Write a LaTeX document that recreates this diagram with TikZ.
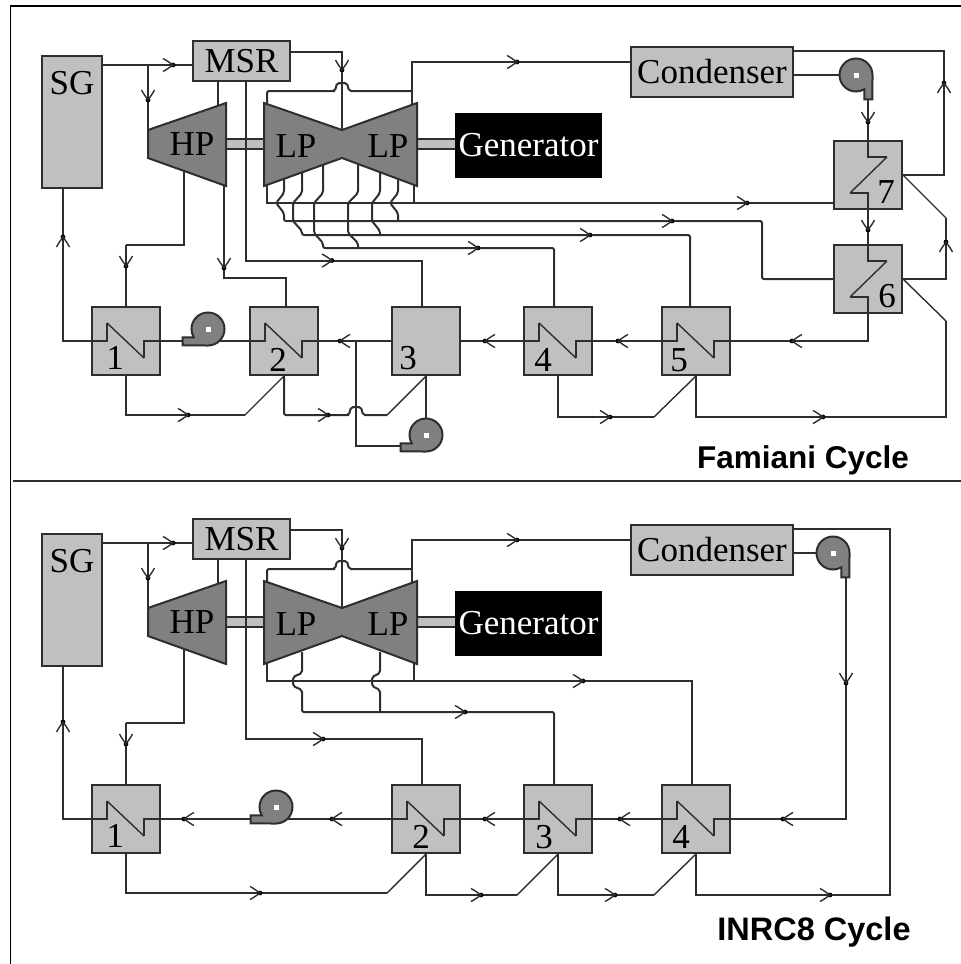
\documentclass[tikz,border=0pt]{standalone}
\usepackage{fontspec}
\setmainfont{Liberation Serif}
\newfontfamily\capfont{Liberation Sans}
\usetikzlibrary{backgrounds,calc}
\definecolor{linegray}{HTML}{2E2E2E}
\definecolor{boxgray}{HTML}{C0C0C0}
\definecolor{darkgray}{HTML}{808080}
\tikzset{
  pipe/.style={draw=linegray,line width=2pt,line join=miter},
  thinpipe/.style={draw=linegray,line width=1.4pt},
  hopline/.style={pipe,rounded corners=2pt},
  boxstyle/.style={draw=linegray,line width=2pt,fill=boxgray,inner sep=0pt,text=black,font=\fontsize{35}{35}\selectfont},
  digitstyle/.style={inner sep=0pt,text=black,font=\fontsize{35}{35}\selectfont},
  turbtext/.style={inner sep=0pt,text=black,font=\fontsize{35}{35}\selectfont},
  turbstyle/.style={draw=linegray,line width=2pt,fill=darkgray,line join=miter},
  shaftstyle/.style={fill=boxgray,draw=linegray,line width=2pt},
  holestyle/.style={draw=none,fill=white,minimum size=5pt,inner sep=0pt},
  capstyle/.style={inner sep=0pt,text=black,font=\capfont\bfseries\fontsize{31.5}{32}\selectfont},
  capstylewide/.style={inner sep=0pt,text=black,font=\capfont\bfseries\fontsize{32.5}{33}\selectfont},
  tipdot/.style={fill=black,draw=none},
  pics/flowtip/.style={code={
    \fill[tipdot] (0,0) circle[radius=2.4pt];
    \draw[draw=linegray,line width=1.4pt] (-10,-6.5) .. controls (-6,-4.5) and (-3,-2) .. (0,0) .. controls (-3,2) and (-6,4.5) .. (-10,6.5);
  }}
}
% \heatbox{name}{cx}{cy}{label}{lx}{ly}: horizontal coil
\newcommand{\heatbox}[6]{%
  \node[boxstyle,minimum width=68pt,minimum height=68pt] (#1) at (#2,#3) {};
  \node[digitstyle] (#1lab) at (#5,#6) {#4};
  \draw[pipe] (#1.east) -- ($(#1.center)+(18,0)$) -- ($(#1.center)+(18,17)$);
  \draw[thinpipe] ($(#1.center)+(18,17)$) -- ($(#1.center)+(-19,-18)$);
  \draw[pipe] ($(#1.center)+(-19,-18)$) -- ($(#1.center)+(-19,0)$) -- (#1.west);
}
% vertical coil
\newcommand{\heatboxv}[6]{%
  \node[boxstyle,minimum width=68pt,minimum height=68pt] (#1) at (#2,#3) {};
  \node[digitstyle] (#1lab) at (#5,#6) {#4};
  \draw[pipe] (#1.north) -- ($(#1.center)+(0,-18)$) -- ($(#1.center)+(19,-18)$);
  \draw[thinpipe] ($(#1.center)+(19,-18)$) -- ($(#1.center)+(-18,18)$);
  \draw[pipe] ($(#1.center)+(-18,18)$) -- ($(#1.center)+(0,18)$) -- (#1.south);
}
% pump with outlet to the left
\newcommand{\pumpleft}[3]{%
  \draw[turbstyle] ($(#2,#3)+(0,16.5)$) arc[start angle=270,end angle=570,radius=16.5pt] -- ++(-11,0) -- ++(0,8.2) -- cycle;
  \node[holestyle] (#1) at (#2,#3) {};
}
% pump with outlet downwards
\newcommand{\pumpdown}[3]{%
  \draw[turbstyle] ($(#2,#3)+(16.5,0)$) arc[start angle=0,end angle=300,radius=16.5pt] -- ++(0,10) -- ++(8.2,0) -- cycle;
  \node[holestyle] (#1) at (#2,#3) {};
}
% parts common to both cycles
\newcommand{\commonparts}[1]{%
  \node[boxstyle,minimum width=60pt,minimum height=132pt] (SG#1) at (72,122) {};
  \node[digitstyle] (SGlab#1) at (72,83) {SG};
  \node[boxstyle,minimum width=97pt,minimum height=40pt] (MSR#1) at (241.5,61) {MSR};
  \node[boxstyle,minimum width=162pt,minimum height=50pt] (Cond#1) at (712,72) {Condenser};
  \node[boxstyle,draw=black,fill=black,text=white,minimum width=145pt,minimum height=63pt] (Gen#1) at (528.5,145.5) {Generator};
  \draw[turbstyle] (148,130) -- (226,103) -- (226,186) -- (148,158) -- cycle;
  \draw[turbstyle] (264,103) -- (342,130) -- (417,103) -- (417,186) -- (342,158) -- (264,186) -- cycle;
  \node[turbtext] (HP#1) at (192,144) {HP};
  \node[turbtext] (LPa#1) at (296,146) {LP};
  \node[turbtext] (LPb#1) at (388,146) {LP};
  \coordinate (HPl#1) at (148,130);
  \coordinate (HPt#1) at (218,106);
  \coordinate (HPb#1) at (184,171);
  \coordinate (LPnotch#1) at (342,130);
  \coordinate (LPtl#1) at (267,104);
  \coordinate (LPtr#1) at (412,105);
  \coordinate (LPbl#1) at (267,185);
  \coordinate (LPbr#1) at (414,185);
  \begin{pgfonlayer}{background}
    \draw[shaftstyle] (226,139) rectangle (264,149);
    \draw[shaftstyle] (417,139) rectangle (456,149);
    \draw[pipe] (SG#1.east |- 0,65) -- (MSR#1.west |- 0,65);
    \draw[pipe] (148,65) -- (HPl#1);
    \draw[pipe] (MSR#1.east |- 0,52) -- (342,52) -- (LPnotch#1);
    \draw[pipe] (MSR#1.south -| HPt#1) -- (HPt#1);
    \draw[hopline] (LPtl#1) -- (267,91) -- (333,91) -- (335,91) -- (337,83) -- (347,83) -- (349,91) -- (412,91);
    \draw[pipe] (LPtr#1) -- (412,62) -- (Cond#1.west |- 0,62);
    \draw[pipe] (HPb#1) -- (184,245) -- (126,245);
  \end{pgfonlayer}
  \pic[rotate=0] at (173,65) {flowtip};
  \pic[rotate=270] at (148,100) {flowtip};
  \pic[rotate=270] at (342,70) {flowtip};
  \pic[rotate=0] at (517,62) {flowtip};
}
\begin{document}
\begin{tikzpicture}[x=1pt,y=-1pt]
\useasboundingbox (0,0) rectangle (961,964);
\coordinate (FrameTL) at (10.5,6);
\coordinate (FrameTR) at (961,6);
\coordinate (FrameBL) at (10.5,964);
\coordinate (DivL) at (13,480.5);
\coordinate (DivR) at (961,480.5);
\draw[black,line width=1.8pt] (FrameBL) -- (FrameTL) -- (FrameTR);
\draw[linegray,line width=2pt] (DivL) -- (DivR);

% ---------- Famiani Cycle ----------
\commonparts{u}
\heatbox{ua}{126}{341}{1}{115}{358}
\heatbox{ub}{284}{341}{2}{278}{360}
\node[boxstyle,minimum width=68pt,minimum height=68pt] (uc) at (426,341) {};
\node[digitstyle] (uclab) at (408,358) {3};
\heatbox{ud}{558}{341}{4}{543}{360}
\heatbox{ue}{696}{341}{5}{679}{360}
\heatboxv{uf}{868}{279}{6}{887}{296}
\heatboxv{ug}{868}{175}{7}{886}{192}
\pumpleft{upa}{208}{329}
\pumpleft{upb}{426}{435}
\pumpdown{upc}{856}{75}
\coordinate (uLa) at (284,179);
\coordinate (uLb) at (302,172);
\coordinate (uLc) at (323,165);
\coordinate (uLd) at (358,164);
\coordinate (uLe) at (380,172);
\coordinate (uLf) at (398,179);
\coordinate (uHPr) at (224,186);
\begin{pgfonlayer}{background}
  % extraction lines
  \draw[pipe] (LPblu) -- (267,203) -- (ug.west |- 0,203);
  \draw[pipe] (LPbru) -- (414,203);
  \draw[hopline] (uLa) -- (284,193) -- (276,203) -- (284,213) -- (284,221) -- (762,221) -- (762,279) -- (uf.west);
  \draw[hopline] (uLf) -- (398,193) -- (390,203) -- (398,213) -- (398,221);
  \draw[hopline] (uLb) -- (302,193) -- (293,203) -- (293,221) -- (302,231) -- (302,235) -- (690,235) -- (ue.north -| 690,0);
  \draw[hopline] (uLe) -- (380,193) -- (372,203) -- (372,221) -- (380,231) -- (380,235);
  \draw[hopline] (uLc) -- (323,193) -- (314,203) -- (314,233) -- (323,243) -- (323,248) -- (554,248) -- (ud.north -| 554,0);
  \draw[hopline] (uLd) -- (358,193) -- (348,203) -- (348,233) -- (358,243) -- (358,248);
  % MSR drain and HP extractions
  \draw[pipe] (MSRu.south -| 246,0) -- (246,260.5) -- (422,260.5) -- (uc.north -| 422,0);
  \draw[pipe] (uHPr) -- (224,278) -- (286,278) -- (ub.north -| 286,0);
  \draw[pipe] (126,245) -- (ua.north);
  % feedwater
  \draw[pipe] (ua.west) -- (63,341) -- (SGu.south -| 63,0);
  \draw[pipe] (ua.east) -- (ub.west);
  \draw[pipe] (ub.east) -- (uc.west);
  \draw[pipe] (uc.east) -- (ud.west);
  \draw[pipe] (ud.east) -- (ue.west);
  \draw[pipe] (ue.east) -- (868,341) -- (uf.south);
  \draw[pipe] (ug.south) -- (uf.north);
  \draw[pipe] (868,99) -- (ug.north);
  \draw[pipe] (Condu.east |- upc) -- (upc);
  % drains
  \draw[pipe] (Condu.east |- 0,51) -- (944,51) -- (944,175) -- (ug.east);
  \draw[thinpipe] (ug.east) -- (946,218);
  \draw[pipe] (946,218) -- (946,279) -- (uf.east);
  \draw[thinpipe] (uf.east) -- (946,321);
  \draw[pipe] (946,321) -- (946,417) -- (696,417) -- (ue.south);
  \draw[pipe] (ud.south) -- (558,417) -- (654,417);
  \draw[thinpipe] (654,417) -- (ue.south);
  \draw[pipe] (ua.south) -- (126,415) -- (245,415);
  \draw[thinpipe] (245,415) -- (ub.south);
  \draw[hopline] (ub.south) -- (284,415) -- (347,415) -- (349,415) -- (351,407) -- (361,407) -- (363,415) -- (387,415);
  \draw[thinpipe] (387,415) -- (uc.south);
  \draw[pipe] (356,341) -- (356,446) -- (402,446);
  \draw[pipe] (uc.south) -- (upb);
\end{pgfonlayer}
\pic[rotate=270] at (224,268) {flowtip};
\pic[rotate=270] at (126,266) {flowtip};
\pic[rotate=0] at (332,260.5) {flowtip};
\pic[rotate=0] at (747,203) {flowtip};
\pic[rotate=0] at (672,221) {flowtip};
\pic[rotate=0] at (590,235) {flowtip};
\pic[rotate=0] at (478,248) {flowtip};
\pic[rotate=90] at (63,237) {flowtip};
\pic[rotate=90] at (944,83) {flowtip};
\pic[rotate=270] at (868,122) {flowtip};
\pic[rotate=270] at (868,230) {flowtip};
\pic[rotate=90] at (946,242) {flowtip};
\pic[rotate=180] at (792,341) {flowtip};
\pic[rotate=180] at (618,341) {flowtip};
\pic[rotate=180] at (485,341) {flowtip};
\pic[rotate=180] at (340,341) {flowtip};
\pic[rotate=0] at (188,415) {flowtip};
\pic[rotate=0] at (328,415) {flowtip};
\pic[rotate=0] at (610,417) {flowtip};
\pic[rotate=0] at (823,417) {flowtip};
\node[capstyle] (capu) at (803,460.5) {Famiani Cycle};

% ---------- INRC8 Cycle ----------
\begin{scope}[shift={(0,478)}]
\commonparts{l}
\end{scope}
\heatbox{la}{126}{819}{1}{115}{836}
\heatbox{lb}{426}{819}{2}{421}{837}
\heatbox{lc}{558}{819}{3}{544}{837}
\heatbox{ld}{696}{819}{4}{681}{837}
\pumpleft{lpa}{276}{807}
\pumpdown{lpb}{833}{553}
\coordinate (lLa) at (302,652);
\coordinate (lLb) at (380,652);
\begin{pgfonlayer}{background}
  \draw[pipe] (LPbll) -- (267,681) -- (692,681) -- (ld.north -| 692,0);
  \draw[pipe] (LPbrl) -- (414,681);
  \draw[hopline] (lLa) -- (302,673) -- (293,677) -- (293,686) -- (302,690) -- (302,712) -- (554,712) -- (lc.north -| 554,0);
  \draw[hopline] (lLb) -- (380,673) -- (372,677) -- (372,686) -- (380,690) -- (380,712);
  \draw[pipe] (MSRl.south -| 246,0) -- (246,739) -- (422,739) -- (lb.north -| 422,0);
  \draw[pipe] (126,723) -- (la.north);
  \draw[pipe] (la.west) -- (63,819) -- (SGl.south -| 63,0);
  \draw[pipe] (la.east) -- (lb.west);
  \draw[pipe] (lb.east) -- (lc.west);
  \draw[pipe] (lc.east) -- (ld.west);
  \draw[pipe] (ld.east) -- (846,819) -- (846,578);
  \draw[pipe] (Condl.east |- lpb) -- (lpb);
  \draw[pipe] (Condl.east |- 0,529) -- (890,529) -- (890,895) -- (696,895) -- (ld.south);
  \draw[pipe] (lc.south) -- (558,895) -- (654,895);
  \draw[thinpipe] (654,895) -- (ld.south);
  \draw[pipe] (lb.south) -- (426,895) -- (517,895);
  \draw[thinpipe] (517,895) -- (lc.south);
  \draw[pipe] (la.south) -- (126,893) -- (387,893);
  \draw[thinpipe] (387,893) -- (lb.south);
\end{pgfonlayer}
\pic[rotate=270] at (126,744) {flowtip};
\pic[rotate=0] at (323,739) {flowtip};
\pic[rotate=0] at (583,681) {flowtip};
\pic[rotate=0] at (465,712) {flowtip};
\pic[rotate=90] at (63,722) {flowtip};
\pic[rotate=270] at (846,683) {flowtip};
\pic[rotate=180] at (783,819) {flowtip};
\pic[rotate=180] at (620,819) {flowtip};
\pic[rotate=180] at (485,819) {flowtip};
\pic[rotate=180] at (332,819) {flowtip};
\pic[rotate=180] at (184,819) {flowtip};
\pic[rotate=0] at (260,893) {flowtip};
\pic[rotate=0] at (481,895) {flowtip};
\pic[rotate=0] at (615,895) {flowtip};
\pic[rotate=0] at (830,895) {flowtip};
\node[capstylewide] (capl) at (814,932) {INRC8 Cycle};
\end{tikzpicture}
\end{document}
